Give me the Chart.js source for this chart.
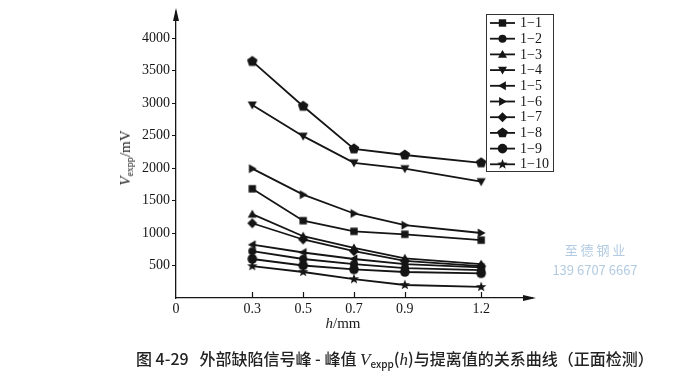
<!DOCTYPE html>
<html lang="zh">
<head>
  <meta charset="UTF-8" />
  <title>Vexpp vs lift-off</title>
  <script src="https://cdn.jsdelivr.net/npm/chart.js"></script>
  <style>
    body { margin: 0; background: #fff; }
    #wrap { position: relative; width: 700px; height: 392px; background: #fff; overflow: hidden; }
    #c { position: absolute; left: 0; top: 0; }
    .serif { font-family: "Liberation Serif", "DejaVu Serif", serif; color: #1a1a1a; }
    .ytitle { position: absolute; left: 126px; top: 158px; transform: translate(-50%, -50%) rotate(-90deg); font-size: 15px; white-space: nowrap; }
    .xtitle { position: absolute; left: 343px; top: 323px; transform: translate(-50%, -50%); font-size: 15px; white-space: nowrap; }
    sub { font-size: 10px; vertical-align: -3px; }
    .caption { position: absolute; left: 136px; top: 346px; font-family: "Noto Sans CJK SC", sans-serif; font-size: 16px; font-weight: 500; color: #222; white-space: nowrap; }
    .caption i { font-family: "Liberation Serif", serif; font-size: 17px; }
    .wm { position: absolute; left: 543px; top: 240px; font-family: "Noto Sans CJK SC", sans-serif; color: #b3cbe2; font-size: 13px; line-height: 20px; text-align: center; width: 104px; }
  </style>
</head>
<body>
<div id="wrap">
  <canvas id="c" width="700" height="392"></canvas>
  <div class="ytitle serif"><i>V</i><sub>expp</sub>/mV</div>
  <div class="xtitle serif"><i>h</i>/mm</div>
  <div class="wm">至&nbsp;德&nbsp;钢&nbsp;业<br>139 6707 6667</div>
  <div class="caption">图 4-29&nbsp;&nbsp;&nbsp;外部缺陷信号峰 - 峰值 <i>V</i><sub>expp</sub>(<i>h</i>)与提离值的关系曲线（正面检测）</div>
</div>

<script>
  // lift-off (mm) and axis ticks
  const liftOff = [0.3, 0.5, 0.7, 0.9, 1.2];
  const xTicks = [0, 0.3, 0.5, 0.7, 0.9, 1.2];
  const yTicks = [500, 1000, 1500, 2000, 2500, 3000, 3500, 4000];

  const names = ['1−1', '1−2', '1−3', '1−4', '1−5', '1−6', '1−7', '1−8', '1−9', '1−10'];
  const markers = ['square', 'circle', 'triUp', 'triDown', 'triLeft', 'triRight', 'diamond', 'pentagon', 'bigCircle', 'star'];

  // Vexpp (mV) per sample
  const s1 = [1680, 1190, 1025, 980, 890];
  const s2 = [720, 600, 520, 460, 430];
  const s3 = [1290, 950, 770, 610, 520];
  const s4 = [2970, 2490, 2080, 1990, 1790];
  const s5 = [820, 700, 600, 520, 470];
  const s6 = [1990, 1590, 1300, 1120, 1000];
  const s7 = [1150, 900, 720, 570, 490];
  const s8 = [3640, 2950, 2295, 2200, 2080];
  const s9 = [600, 500, 440, 400, 380];
  const s10 = [490, 400, 290, 200, 170];
  const series = [s1, s2, s3, s4, s5, s6, s7, s8, s9, s10];

  const INK = '#151515';
  const serif = '"Liberation Serif", "DejaVu Serif", serif';

  function poly(ctx, x, y, r, n, rot) {
    ctx.beginPath();
    for (let i = 0; i < n; i++) {
      const a = rot + i * 2 * Math.PI / n;
      const px = x + r * Math.cos(a), py = y + r * Math.sin(a);
      i ? ctx.lineTo(px, py) : ctx.moveTo(px, py);
    }
    ctx.closePath();
    ctx.fill();
  }

  function drawMarker(ctx, type, x, y) {
    ctx.fillStyle = INK;
    switch (type) {
      case 'square': ctx.fillRect(x - 3.7, y - 3.7, 7.4, 7.4); break;
      case 'circle': ctx.beginPath(); ctx.arc(x, y, 4, 0, Math.PI * 2); ctx.fill(); break;
      case 'bigCircle': ctx.beginPath(); ctx.arc(x, y, 4.8, 0, Math.PI * 2); ctx.fill(); break;
      case 'triUp': poly(ctx, x, y + 0.8, 5.2, 3, -Math.PI / 2); break;
      case 'triDown': poly(ctx, x, y - 0.8, 5.2, 3, Math.PI / 2); break;
      case 'triLeft': poly(ctx, x + 0.8, y, 5.2, 3, Math.PI); break;
      case 'triRight': poly(ctx, x - 0.8, y, 5.2, 3, 0); break;
      case 'diamond': poly(ctx, x, y, 5, 4, 0); break;
      case 'pentagon': poly(ctx, x, y, 5.5, 5, -Math.PI / 2); break;
      case 'star': {
        ctx.beginPath();
        for (let i = 0; i < 10; i++) {
          const r = i % 2 ? 2.3 : 5.4;
          const a = -Math.PI / 2 + i * Math.PI / 5;
          const px = x + r * Math.cos(a), py = y + r * Math.sin(a);
          i ? ctx.lineTo(px, py) : ctx.moveTo(px, py);
        }
        ctx.closePath();
        ctx.fill();
        break;
      }
    }
  }

  function markerImage(type) {
    const cv = document.createElement('canvas');
    cv.width = 14; cv.height = 14;
    drawMarker(cv.getContext('2d'), type, 7, 7);
    return cv;
  }

  const datasets = series.map((vals, i) => ({
    label: names[i],
    data: liftOff.map((h, j) => ({ x: h, y: vals[j] })),
    borderColor: INK,
    borderWidth: 1.8,
    pointStyle: markerImage(markers[i]),
    pointRadius: 5,
    fill: false,
    tension: 0
  }));

  // axis arrows, inner x ticks and the boxed legend
  const decorations = {
    id: 'decorations',
    afterDraw(chart) {
      const ctx = chart.ctx;
      const { left, right, top, bottom } = chart.chartArea;
      const xs = chart.scales.x;
      ctx.save();
      ctx.strokeStyle = INK;
      ctx.fillStyle = INK;
      ctx.lineWidth = 1.2;
      // x ticks pointing inwards
      xTicks.forEach(v => {
        if (v === 0) return;
        const px = Math.round(xs.getPixelForValue(v)) + 0.5;
        ctx.beginPath(); ctx.moveTo(px, bottom); ctx.lineTo(px, bottom - 6); ctx.stroke();
      });
      // arrows
      ctx.beginPath();
      ctx.moveTo(left, top - 4); ctx.lineTo(left - 3, top + 9); ctx.lineTo(left + 3, top + 9); ctx.closePath(); ctx.fill();
      ctx.beginPath();
      ctx.moveTo(right + 4, bottom); ctx.lineTo(right - 9, bottom - 3); ctx.lineTo(right - 9, bottom + 3); ctx.closePath(); ctx.fill();

      // legend
      ctx.lineWidth = 1;
      ctx.strokeStyle = '#333';
      ctx.fillStyle = '#fff';
      ctx.fillRect(486.5, 14.5, 67, 157);
      ctx.strokeRect(486.5, 14.5, 67, 157);
      ctx.font = '14px ' + serif;
      ctx.textBaseline = 'middle';
      names.forEach((name, i) => {
        const y = 23 + i * 15.7;
        ctx.strokeStyle = INK;
        ctx.lineWidth = 1.8;
        ctx.beginPath(); ctx.moveTo(490, y); ctx.lineTo(515, y); ctx.stroke();
        drawMarker(ctx, markers[i], 502.5, y);
        ctx.fillStyle = INK;
        ctx.fillText(name, 520, y + 0.5);
      });
      ctx.restore();
    }
  };

  new Chart(document.getElementById('c'), {
    type: 'line',
    data: { datasets },
    options: {
      responsive: false,
      animation: false,
      layout: { padding: { left: 0, top: 12, right: 168, bottom: 0 } },
      plugins: { legend: { display: false }, tooltip: { enabled: false } },
      scales: {
        x: {
          type: 'linear',
          min: 0,
          max: 1.4,
          afterBuildTicks: s => { s.ticks = xTicks.map(v => ({ value: v })); },
          afterFit: s => { s.height = 94; },
          grid: { display: false, drawTicks: false, tickLength: 0 },
          border: { display: true, color: INK, width: 1.3 },
          ticks: {
            autoSkip: false,
            maxRotation: 0,
            padding: 3,
            color: INK,
            font: { family: serif, size: 14 },
            callback: v => v === 0 ? '0' : v.toFixed(1)
          }
        },
        y: {
          min: 0,
          max: 4400,
          afterBuildTicks: s => { s.ticks = yTicks.map(v => ({ value: v })); },
          afterFit: s => { s.width = 176; },
          grid: { display: true, drawOnChartArea: false, drawTicks: true, tickLength: 4, color: INK },
          border: { display: true, color: INK, width: 1.3 },
          ticks: {
            padding: 2,
            color: INK,
            font: { family: serif, size: 14 },
            callback: v => String(v)
          }
        }
      }
    },
    plugins: [decorations]
  });
</script>
</body>
</html>
